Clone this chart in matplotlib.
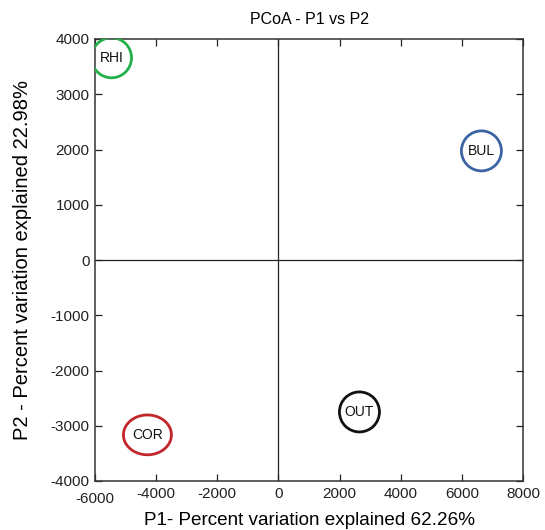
import matplotlib
matplotlib.use("Agg")
import matplotlib.pyplot as plt
from matplotlib.path import Path
from matplotlib.transforms import ScaledTranslation
import numpy as np

plt.rcParams['font.family'] = ['Liberation Sans', 'DejaVu Sans']
plt.rcParams['axes.unicode_minus'] = False

labels = ["RHI", "BUL", "COR", "OUT"]
p1 = [-5460, 6640, -4285, 2650]
p2 = [3660, 1975, -3165, -2750]
colors = ["#22b04a", "#3d64a2", "#c1262b", "#111111"]
xticks = [-6000, -4000, -2000, 0, 2000, 4000, 6000, 8000]
yticks = [-4000, -3000, -2000, -1000, 0, 1000, 2000, 3000, 4000]

fig = plt.figure(figsize=(5.45, 5.30), dpi=100)
ax = fig.add_axes([95/545, 1-481/530, (523-95)/545, (481-39)/530])
ax.set_xlim(-6000, 8000)
ax.set_ylim(-4000, 4000)

ax.axhline(0, color="#222222", lw=0.9, zorder=1)
ax.axvline(0, color="#222222", lw=0.9, zorder=1)

# ellipse marker for COR
t = np.linspace(0, 2*np.pi, 100)
ell = Path(np.column_stack([np.cos(t), 0.83*np.sin(t)]), closed=True)

for lab, x, y, c in zip(labels, p1, p2, colors):
    if lab == "COR":
        ax.scatter([x], [y], s=(48*0.72)**2, marker=ell, facecolors="none",
                   edgecolors=c, linewidths=2.0, zorder=3)
    else:
        ax.scatter([x], [y], s=(40*0.72)**2, marker="o", facecolors="none",
                   edgecolors=c, linewidths=2.0, zorder=3)
    ax.text(x, y, lab, ha="center", va="center", fontsize=10, color="#111111", zorder=4)

ax.set_xticks(xticks)
ax.set_yticks(yticks)
ax.tick_params(direction="in", length=5, width=0.9, top=True, right=True,
               labelsize=11, colors="#222222", pad=4)
for s in ax.spines.values():
    s.set_color("#333333")
    s.set_linewidth(1.1)

ax.set_title("PCoA - P1 vs P2", fontsize=11.5, pad=11)
ax.set_xlabel("P1- Percent variation explained 62.26%", fontsize=13.6, labelpad=4)
ax.set_ylabel("P2 - Percent variation explained 22.98%", fontsize=14.5, labelpad=13)

fig.canvas.draw()
lbl = ax.get_xticklabels()[0]
lbl.set_transform(lbl.get_transform() + ScaledTranslation(0, -4/72, fig.dpi_scale_trans))

fig.savefig("out.png", dpi=100)
